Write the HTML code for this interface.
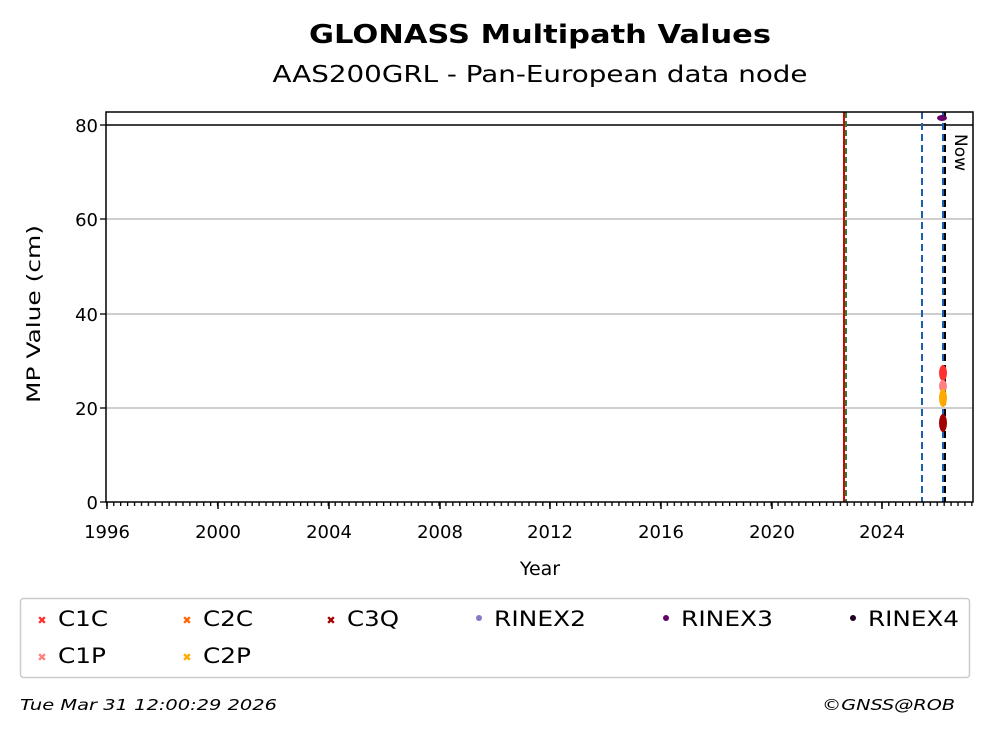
<!DOCTYPE html>
<html><head><style>
body{margin:0;background:#fff;width:993px;height:734px;overflow:hidden}
svg{font-family:"DejaVu Sans","Liberation Sans",sans-serif}
</style></head><body>
<svg width="993" height="734" viewBox="0 0 993 734" xmlns="http://www.w3.org/2000/svg">
<defs>
<pattern id="mt" x="106.2" y="0" width="6.92" height="10" patternUnits="userSpaceOnUse">
<rect x="0" y="0" width="1.3" height="10" fill="#000"/>
</pattern>
</defs>
<text x="540" y="43" text-anchor="middle" font-size="26" font-weight="bold" textLength="462" lengthAdjust="spacingAndGlyphs">GLONASS Multipath Values</text>
<text x="540" y="82" text-anchor="middle" font-size="23" textLength="535" lengthAdjust="spacingAndGlyphs">AAS200GRL - Pan-European data node</text>
<g stroke="#b0b0b0" stroke-width="1.3">
<line x1="106" x2="973" y1="408" y2="408"/><line x1="106" x2="973" y1="314" y2="314"/><line x1="106" x2="973" y1="219" y2="219"/>
</g>
<line x1="106" x2="973" y1="125" y2="125" stroke="#000" stroke-width="1.5"/>
<line x1="844" x2="844" y1="112" y2="502" stroke="#d00" stroke-width="2"/>
<line x1="846" x2="846" y1="112" y2="502" stroke="#1a8a3a" stroke-width="2" stroke-dasharray="6,3"/>
<line x1="922" x2="922" y1="112" y2="502" stroke="#1f5fb0" stroke-width="2" stroke-dasharray="7,4"/>
<line x1="943" x2="943" y1="112" y2="502" stroke="#1f5fb0" stroke-width="2" stroke-dasharray="7,4"/>
<line x1="945" x2="945" y1="112" y2="502" stroke="#000" stroke-width="2" stroke-dasharray="7,4"/>
<g>
<ellipse cx="943" cy="373" rx="4" ry="8" fill="#ff3030"/>
<ellipse cx="943" cy="386" rx="4" ry="6" fill="#ff8080"/>
<ellipse cx="943" cy="398" rx="4" ry="9" fill="#ffaa00"/>
<ellipse cx="943" cy="423" rx="4" ry="9" fill="#a00000"/>
<ellipse cx="942" cy="118" rx="5" ry="3" fill="#660066"/>
</g>
<text x="0" y="0" font-size="17" transform="translate(955,134) rotate(90)">Now</text>
<rect x="106" y="112" width="867" height="390" fill="none" stroke="#000" stroke-width="1.5"/>
<rect x="106" y="502" width="867" height="4" fill="url(#mt)"/>
<g stroke="#000" stroke-width="1.5">
<line x1="107" x2="107" y1="502" y2="509"/><line x1="218" x2="218" y1="502" y2="509"/><line x1="329" x2="329" y1="502" y2="509"/><line x1="440" x2="440" y1="502" y2="509"/><line x1="550" x2="550" y1="502" y2="509"/><line x1="661" x2="661" y1="502" y2="509"/><line x1="772" x2="772" y1="502" y2="509"/><line x1="882" x2="882" y1="502" y2="509"/>
</g>
<g font-size="18" text-anchor="end">
<text x="98" y="509">0</text><text x="98" y="415">20</text><text x="98" y="321">40</text><text x="98" y="226">60</text><text x="98" y="132">80</text>
</g>
<g stroke="#000" stroke-width="1.3">
<line x1="100" x2="106" y1="502" y2="502"/><line x1="100" x2="106" y1="408" y2="408"/><line x1="100" x2="106" y1="314" y2="314"/><line x1="100" x2="106" y1="219" y2="219"/><line x1="100" x2="106" y1="125" y2="125"/>
</g>
<g font-size="18" text-anchor="middle">
<text x="107" y="538">1996</text><text x="218" y="538">2000</text><text x="329" y="538">2004</text><text x="440" y="538">2008</text><text x="550" y="538">2012</text><text x="661" y="538">2016</text><text x="772" y="538">2020</text><text x="882" y="538">2024</text>
</g>
<text x="540" y="575" text-anchor="middle" font-size="19">Year</text>
<text transform="translate(40,314) rotate(-90)" text-anchor="middle" font-size="19" textLength="178" lengthAdjust="spacingAndGlyphs">MP Value (cm)</text>
<rect x="20.5" y="598.5" width="949" height="79" rx="3" fill="#fff" stroke="#ccc" stroke-width="1.5"/>
<g font-size="21">
<text x="42" y="624" fill="#ff3030" font-size="11" text-anchor="middle">✖</text><text x="58" y="626" textLength="50" lengthAdjust="spacingAndGlyphs">C1C</text>
<text x="187" y="624" fill="#ff6600" font-size="11" text-anchor="middle">✖</text><text x="203" y="626" textLength="50" lengthAdjust="spacingAndGlyphs">C2C</text>
<text x="331" y="624" fill="#a00000" font-size="11" text-anchor="middle">✖</text><text x="347" y="626" textLength="52" lengthAdjust="spacingAndGlyphs">C3Q</text>
<circle cx="479" cy="618" r="3" fill="#8878c8"/><text x="494" y="626" textLength="92" lengthAdjust="spacingAndGlyphs">RINEX2</text>
<circle cx="666" cy="618" r="3" fill="#660066"/><text x="681" y="626" textLength="92" lengthAdjust="spacingAndGlyphs">RINEX3</text>
<circle cx="853" cy="618" r="3" fill="#220022"/><text x="868" y="626" textLength="91" lengthAdjust="spacingAndGlyphs">RINEX4</text>
<text x="42" y="661" fill="#ff8080" font-size="11" text-anchor="middle">✖</text><text x="58" y="663" textLength="48" lengthAdjust="spacingAndGlyphs">C1P</text>
<text x="187" y="661" fill="#ffaa00" font-size="11" text-anchor="middle">✖</text><text x="203" y="663" textLength="48" lengthAdjust="spacingAndGlyphs">C2P</text>
</g>
<text x="20" y="710" font-size="15" font-style="italic" textLength="257" lengthAdjust="spacingAndGlyphs">Tue Mar 31 12:00:29 2026</text>
<text x="822" y="710" font-size="15" font-style="italic" textLength="133" lengthAdjust="spacingAndGlyphs">©GNSS@ROB</text>
</svg>
</body></html>
